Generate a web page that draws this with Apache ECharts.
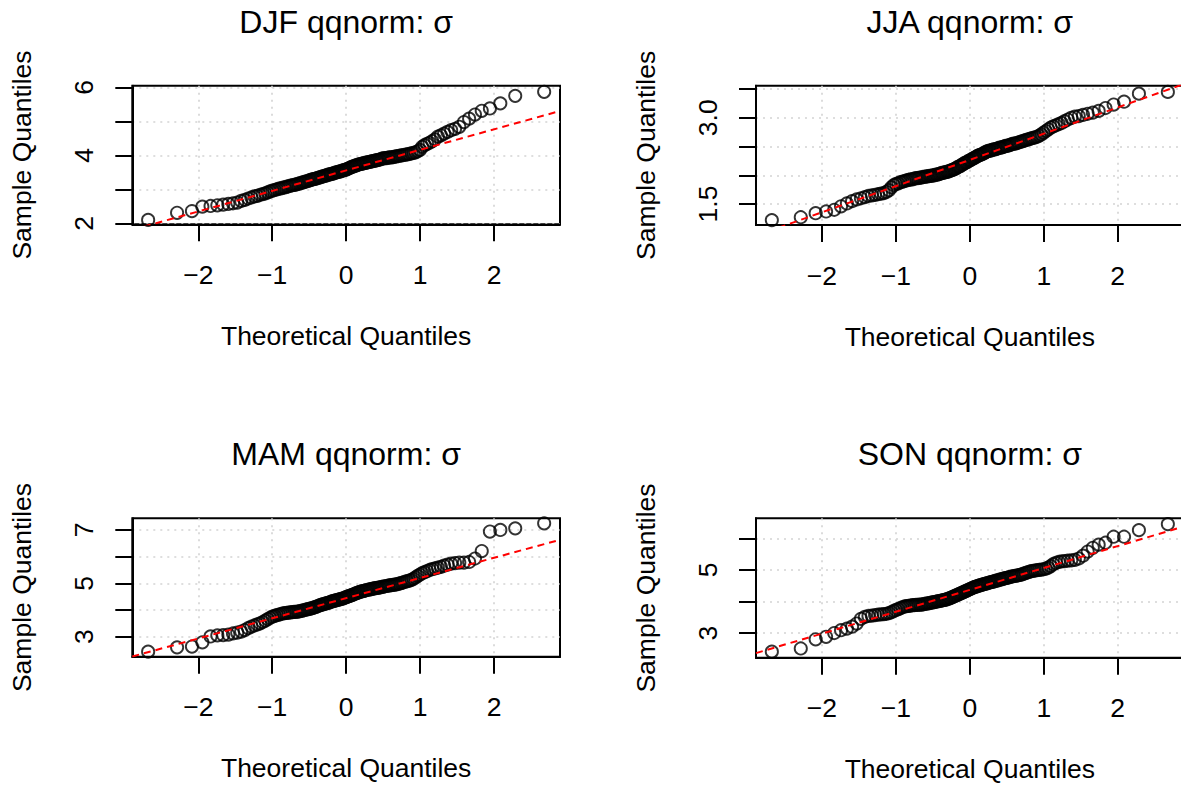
<!DOCTYPE html>
<html>
<head>
<meta charset="utf-8">
<script src="https://cdn.jsdelivr.net/npm/echarts@6/dist/echarts.min.js"></script>
<style>
html,body{margin:0;padding:0;background:#ffffff;}
#c{width:1181px;height:786px;}
</style>
</head>
<body>
<div id="c"></div>
<script>
// ---------------- data (sample values, sorted) ----------------
const panelTitles = ['DJF qqnorm: \u03c3', 'JJA qqnorm: \u03c3', 'MAM qqnorm: \u03c3', 'SON qqnorm: \u03c3'];

const djf = [2.10,2.31,2.36,2.49,2.51,2.53,2.55,2.57,2.59,2.61,
2.66,2.69,2.73,2.76,2.79,2.81,2.84,2.86,2.88,2.91,
2.94,2.96,2.98,3.00,3.02,3.03,3.05,3.06,3.08,3.09,
3.11,3.12,3.13,3.14,3.16,3.17,3.19,3.20,3.22,3.23,
3.24,3.26,3.27,3.29,3.30,3.31,3.32,3.34,3.35,3.36,
3.38,3.39,3.40,3.41,3.43,3.44,3.45,3.46,3.47,3.49,
3.50,3.51,3.52,3.53,3.55,3.56,3.57,3.58,3.60,3.62,
3.64,3.66,3.67,3.69,3.70,3.72,3.73,3.74,3.75,3.76,
3.77,3.78,3.79,3.80,3.81,3.82,3.83,3.84,3.85,3.86,
3.87,3.88,3.90,3.91,3.92,3.92,3.93,3.94,3.94,3.95,
3.96,3.97,3.98,3.99,4.00,4.01,4.02,4.03,4.04,4.06,
4.07,4.09,4.12,4.16,4.25,4.30,4.34,4.37,4.42,4.47,
4.55,4.59,4.64,4.69,4.74,4.78,4.84,4.98,5.08,5.20,
5.31,5.38,5.53,5.75,5.87];

const jja = [1.22,1.27,1.34,1.37,1.40,1.46,1.51,1.55,1.58,1.60,
1.62,1.64,1.65,1.66,1.67,1.68,1.69,1.71,1.74,1.79,
1.83,1.85,1.86,1.88,1.89,1.90,1.91,1.92,1.93,1.93,
1.94,1.95,1.95,1.96,1.96,1.97,1.97,1.98,1.98,1.99,
1.99,2.00,2.00,2.01,2.01,2.02,2.03,2.04,2.04,2.05,
2.06,2.06,2.07,2.08,2.09,2.10,2.11,2.12,2.14,2.15,
2.16,2.18,2.19,2.21,2.22,2.23,2.25,2.26,2.27,2.29,
2.30,2.31,2.33,2.34,2.35,2.36,2.37,2.38,2.40,2.41,
2.42,2.43,2.43,2.44,2.45,2.45,2.46,2.47,2.48,2.48,
2.49,2.50,2.51,2.51,2.52,2.53,2.54,2.55,2.55,2.56,
2.57,2.58,2.59,2.60,2.61,2.62,2.63,2.64,2.65,2.66,
2.67,2.69,2.71,2.74,2.77,2.80,2.83,2.85,2.87,2.89,
2.91,2.94,2.97,3.00,3.02,3.03,3.05,3.07,3.09,3.12,
3.17,3.23,3.28,3.42,3.45];

const mam = [2.44,2.60,2.63,2.79,3.01,3.05,3.06,3.08,3.12,3.15,
3.19,3.25,3.32,3.38,3.42,3.46,3.50,3.55,3.60,3.66,
3.71,3.75,3.78,3.81,3.83,3.85,3.87,3.88,3.89,3.90,
3.91,3.92,3.93,3.93,3.94,3.95,3.97,3.98,4.00,4.01,
4.02,4.04,4.05,4.07,4.09,4.11,4.13,4.15,4.17,4.19,
4.21,4.22,4.24,4.26,4.27,4.29,4.31,4.32,4.34,4.35,
4.37,4.38,4.40,4.41,4.43,4.44,4.46,4.48,4.50,4.52,
4.54,4.56,4.58,4.60,4.62,4.64,4.66,4.68,4.70,4.71,
4.72,4.74,4.75,4.76,4.77,4.78,4.80,4.81,4.82,4.83,
4.84,4.85,4.87,4.88,4.89,4.90,4.91,4.92,4.93,4.94,
4.95,4.96,4.98,5.00,5.02,5.04,5.06,5.08,5.10,5.13,
5.17,5.22,5.28,5.33,5.38,5.42,5.46,5.50,5.53,5.56,
5.59,5.62,5.66,5.70,5.74,5.76,5.78,5.78,5.80,5.93,
6.21,6.94,7.00,7.06,7.25];

const son = [2.41,2.51,2.80,2.88,3.00,3.09,3.14,3.20,3.30,3.45,
3.51,3.54,3.55,3.57,3.58,3.59,3.60,3.61,3.63,3.66,
3.70,3.73,3.76,3.79,3.82,3.84,3.85,3.86,3.87,3.88,
3.88,3.89,3.89,3.90,3.90,3.91,3.92,3.93,3.94,3.95,
3.96,3.97,3.98,3.99,4.00,4.01,4.02,4.03,4.04,4.05,
4.06,4.08,4.09,4.11,4.13,4.15,4.17,4.19,4.21,4.23,
4.25,4.27,4.29,4.31,4.33,4.35,4.37,4.39,4.41,4.43,
4.45,4.46,4.48,4.49,4.51,4.52,4.53,4.55,4.56,4.57,
4.58,4.60,4.61,4.62,4.63,4.65,4.66,4.67,4.69,4.70,
4.71,4.73,4.74,4.75,4.76,4.78,4.79,4.80,4.81,4.82,
4.83,4.84,4.86,4.88,4.90,4.92,4.94,4.96,4.97,4.98,
4.99,5.00,5.01,5.02,5.04,5.07,5.12,5.18,5.22,5.25,
5.27,5.28,5.29,5.30,5.32,5.36,5.45,5.58,5.70,5.80,
5.86,6.05,6.05,6.26,6.45];

// axis scales and tick labels
const xTickValues = [-2, -1, 0, 1, 2];
const yAxisMin = [1.971, 1.135, 2.25, 2.218];
const yAxisMax = [6.049, 3.558, 7.4375, 6.634];
const yTickValues = [[2,3,4,5,6], [1.5,2,2.5,3,3.5], [3,4,5,6,7], [3,4,5,6]];
const yLabelValues = [[2,4,6], [1.5,3], [3,5,7], [3,5]];
const yLabelDecimals = [0, 1, 0, 0];
const xAxisTitle = 'Theoretical Quantiles';
const yAxisTitle = 'Sample Quantiles';

// ---------------- statistics (qqnorm / qqline, as in R) ----------------
function qnorm(p) {
  const a = [-3.969683028665376e+01, 2.209460984245205e+02, -2.759285104469687e+02, 1.383577518672690e+02, -3.066479806614716e+01, 2.506628277459239e+00];
  const b = [-5.447609879822406e+01, 1.615858368580409e+02, -1.556989798598866e+02, 6.680131188771972e+01, -1.328068155288572e+01];
  const c = [-7.784894002430293e-03, -3.223964580411365e-01, -2.400758277161838e+00, -2.549732539343734e+00, 4.374664141464968e+00, 2.938163982698783e+00];
  const d = [7.784695709041462e-03, 3.224671290700398e-01, 2.445134137142996e+00, 3.754408661907416e+00];
  const plow = 0.02425, phigh = 1 - plow;
  let q, r;
  if (p < plow) {
    q = Math.sqrt(-2 * Math.log(p));
    return (((((c[0]*q+c[1])*q+c[2])*q+c[3])*q+c[4])*q+c[5]) / ((((d[0]*q+d[1])*q+d[2])*q+d[3])*q+1);
  } else if (p <= phigh) {
    q = p - 0.5; r = q * q;
    return (((((a[0]*r+a[1])*r+a[2])*r+a[3])*r+a[4])*r+a[5])*q / (((((b[0]*r+b[1])*r+b[2])*r+b[3])*r+b[4])*r+1);
  } else {
    q = Math.sqrt(-2 * Math.log(1 - p));
    return -(((((c[0]*q+c[1])*q+c[2])*q+c[3])*q+c[4])*q+c[5]) / ((((d[0]*q+d[1])*q+d[2])*q+d[3])*q+1);
  }
}
function ppoints(n) {
  const a = n <= 10 ? 3 / 8 : 0.5;
  const out = [];
  for (let i = 1; i <= n; i++) out.push((i - a) / (n + 1 - 2 * a));
  return out;
}
function quantile7(sorted, p) {
  const h = (sorted.length - 1) * p;
  const lo = Math.floor(h), hi = Math.ceil(h);
  return sorted[lo] + (h - lo) * (sorted[hi] - sorted[lo]);
}

const samples = [djf, jja, mam, son];

// ---------------- layout & style ----------------
const FONT = "'Liberation Sans', Arial, Helvetica, sans-serif";
const gridBoxes = [
  {left: 132.3, top: 85.7, width: 427.7, height: 138.6},
  {left: 756.0, top: 85.7, width: 427.7, height: 139.3},
  {left: 132.3, top: 518.3, width: 427.7, height: 138.4},
  {left: 756.0, top: 518.3, width: 427.7, height: 139.4}
];
const LABEL_SIZE = 26.5;
const TITLE_SIZE = 32;
const LINE_W = 2;

const grids = [], xAxes = [], yAxes = [], series = [], graphics = [];

samples.forEach(function (vals, k) {
  const sorted = vals.slice().sort(function (p, q) { return p - q; });
  const n = sorted.length;
  const theo = ppoints(n).map(qnorm);
  const tMin = theo[0], tMax = theo[n - 1];
  const xlo = tMin - 0.04 * (tMax - tMin);
  const xhi = tMax + 0.04 * (tMax - tMin);
  // qqline through the quartiles
  const q1 = quantile7(sorted, 0.25), q3 = quantile7(sorted, 0.75);
  const z1 = qnorm(0.25), z3 = qnorm(0.75);
  const slope = (q3 - q1) / (z3 - z1);
  const intercept = q1 - slope * z1;

  const g = gridBoxes[k];
  grids.push({
    left: g.left, top: g.top, width: g.width, height: g.height,
    show: true, borderColor: '#000', borderWidth: LINE_W, backgroundColor: 'transparent',
    containLabel: false, outerBoundsMode: 'none'
  });

  xAxes.push({
    type: 'value', gridIndex: k, min: xlo, max: xhi,
    name: xAxisTitle, nameLocation: 'middle', nameGap: 98, nameMoveOverlap: false,
    nameTextStyle: {fontFamily: FONT, fontSize: LABEL_SIZE, color: '#000'},
    axisLine: {show: true, onZero: false, lineStyle: {color: '#000', width: LINE_W}},
    axisTick: {show: true, length: 17, inside: false, customValues: xTickValues, lineStyle: {color: '#000', width: LINE_W}},
    axisLabel: {show: true, customValues: xTickValues, margin: 37, fontFamily: FONT, fontSize: LABEL_SIZE, color: '#000',
      formatter: function (v) { return v < 0 ? '\u2212' + Math.abs(v) : String(v); }},
    splitLine: {show: true, lineStyle: {color: '#d3d3d3', type: [2, 5], width: 1.6}}
  });

  yAxes.push({
    type: 'value', gridIndex: k, min: yAxisMin[k], max: yAxisMax[k],
    name: yAxisTitle, nameLocation: 'middle', nameGap: 97, nameMoveOverlap: false,
    nameTextStyle: {fontFamily: FONT, fontSize: LABEL_SIZE, color: '#000'},
    axisLine: {show: true, onZero: false, lineStyle: {color: '#000', width: LINE_W}},
    axisTick: {show: true, length: 17, inside: false, customValues: yTickValues[k], lineStyle: {color: '#000', width: LINE_W}},
    axisLabel: {show: true, customValues: yLabelValues[k], rotate: 90, margin: 35, fontFamily: FONT, fontSize: LABEL_SIZE, color: '#000',
      formatter: (function (dec) { return function (v) { return Number(v).toFixed(dec); }; })(yLabelDecimals[k])},
    splitLine: {show: true, lineStyle: {color: '#d3d3d3', type: [2, 5], width: 1.6}}
  });

  series.push({
    type: 'scatter', xAxisIndex: k, yAxisIndex: k,
    data: sorted.map(function (v, i) { return [theo[i], v]; }),
    symbol: 'circle', symbolSize: 12.2,
    itemStyle: {color: 'rgba(0,0,0,0)', borderColor: '#000', borderWidth: 1.9},
    emphasis: {disabled: true}, silent: true, z: 3
  });
  series.push({
    type: 'line', xAxisIndex: k, yAxisIndex: k,
    data: [[xlo, intercept + slope * xlo], [xhi, intercept + slope * xhi]],
    showSymbol: false, symbol: 'none', clip: true,
    lineStyle: {color: '#ff0000', width: 2, type: [7, 5]},
    emphasis: {disabled: true}, silent: true, z: 4
  });

  graphics.push({
    type: 'text', x: g.left + g.width / 2, y: g.top - 64,
    style: {text: panelTitles[k], font: TITLE_SIZE + 'px ' + FONT, fill: '#000', textAlign: 'center', textVerticalAlign: 'middle'}
  });
});

const chart = echarts.init(document.getElementById('c'), null, {renderer: 'svg', width: 1181, height: 786});
chart.setOption({
  backgroundColor: '#ffffff',
  animation: false,
  grid: grids,
  xAxis: xAxes,
  yAxis: yAxes,
  series: series,
  graphic: graphics
});
</script>
</body>
</html>
